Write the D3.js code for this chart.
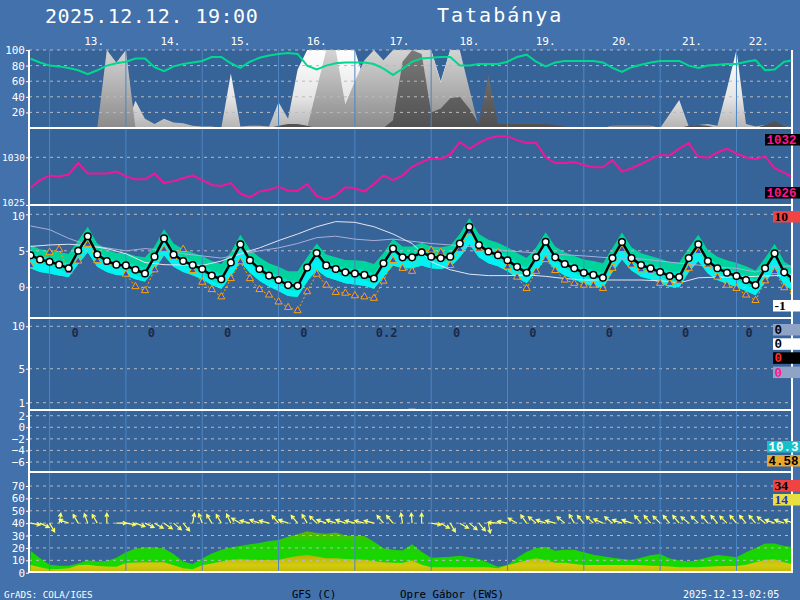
<!DOCTYPE html>
<html>
<head>
<meta charset="utf-8">
<script src="https://cdn.jsdelivr.net/npm/d3@7/dist/d3.min.js"></script>
<style>
html,body{margin:0;padding:0;background:#4271ab;}
svg{display:block;}
</style>
</head>
<body>
<svg id="chart" width="800" height="600"></svg>
<script>
// ================= DATA =================
const hours = d3.range(0, 241, 3);      // 3-hourly forecast steps (81)
const hours6 = d3.range(0, 241, 6);     // 6-hourly steps (41)

const dayLabels = ["13.","14.","15.","16.","17.","18.","19.","20.","21.","22."];
const dayLabelHours = [20,44,66,90,116,138,162,186,208,229];
const dayLineHours = [6,30,54,78,102,126,150,174,198,222];

const humidity = [88.8,84,80,79,77,74,69,74,80,83,
 85,89,89,78,73,79,82,84,86,91,
 91,83,77,85,90,93,95,96,95,80,
 75,80,83,84,84,84,82,76,68,76,
 85,89,90,91,91,80,80,82,82,82,
 85,91,94,85,79,84,86,86,86,86,
 84,77,72,78,81,84,86,86,86,80,
 77,80,81,82,82,85,87,74,75,85,
 87];

const cloudHigh = [0,0,0,0,0,0,0,0,0,0,
 0,35,12,5,12,7,6,3,2,2,
 0,70,2,3,3,2,33,12,75,100,
 100,100,100,100,100,60,30,10,0,0,
 0,30,100,60,100,95,40,0,0,0,
 0,0,0,0,0,0,0,0,0,0,
 0,3,3,3,3,3,0,18,36,2,
 4,5,3,50,100,5,2,4,6,3,
 0];
const cloudMid = [0,0,0,0,0,0,0,0,100,84,
 100,0,0,0,0,0,0,0,0,0,
 0,0,0,0,0,0,0,0,0,0,
 50,100,100,30,60,87,100,87,100,100,
 100,100,100,58,100,100,50,0,0,0,
 0,0,0,0,0,0,0,0,0,0,
 0,0,0,0,0,0,0,0,0,0,
 0,0,0,0,0,0,0,0,0,0,
 0];
const cloudLow = [0,0,0,0,0,0,0,0,0,0,
 0,0,0,0,0,0,0,0,0,0,
 0,0,0,0,0,0,3,5,5,3,
 0,0,0,0,0,0,0,0,10,85,
 100,95,20,25,38,40,25,5,68,5,
 5,5,5,5,5,4,2,0,0,0,
 0,2,2,2,2,2,0,0,0,3,
 4,3,0,0,0,0,0,4,9,3,
 0];

const pressure = [1026.8,1027.6,1028.1,1028.0,1028.2,1029.4,1028.3,1028.3,1028.3,1028.5,
 1028.0,1027.7,1027.7,1028.3,1027.3,1027.5,1027.8,1028.1,1027.6,1027.1,
 1027.0,1027.3,1026.2,1025.8,1026.4,1026.6,1026.9,1026.5,1026.5,1027.2,
 1025.95,1025.6,1026.0,1026.85,1026.75,1026.4,1027.2,1028.1,1027.6,1028.1,
 1029.0,1029.5,1029.9,1029.8,1030.3,1031.6,1030.9,1031.5,1032.0,1032.2,
 1032.2,1031.8,1031.5,1031.5,1030.0,1029.4,1029.4,1029.5,1029.2,1028.95,
 1028.95,1029.7,1028.5,1028.85,1029.3,1029.8,1030.25,1030.2,1030.9,1031.5,
 1030.05,1029.95,1030.5,1030.9,1030.4,1030.0,1029.8,1030.1,1028.85,1028.4,
 1027.85];

const temperature = [4.4,3.8,3.5,3.1,2.6,5.0,7.0,4.5,3.6,3.1,
 3.0,2.4,1.9,4.2,6.7,4.5,3.6,3.05,2.5,1.6,
 1.1,3.4,5.9,3.7,2.5,1.6,1.0,0.3,0.2,2.7,
 4.7,3.0,2.5,2.05,1.9,1.7,1.2,3.3,5.3,4.1,
 4.1,4.8,4.2,4.0,4.2,6.0,8.3,5.8,4.9,4.4,
 3.7,2.8,2.0,4.1,6.25,4.1,3.2,2.6,2.0,1.7,
 1.3,4.0,6.2,4.0,3.05,2.6,2.1,1.55,1.4,4.0,
 5.9,3.6,2.6,2.0,1.55,1.0,0.3,2.6,4.65,2.05,
 1.1];

const temperature2 = [2.96,3.6,4.8,5.2,2.2,3.6,5.9,3.65,3.3,3.05,
 1.8,0.1,-0.45,2.4,5.2,4.1,5.2,2.3,0.7,-0.3,
 -1.3,1.2,3.5,1.2,-0.3,-1.05,-2.0,-2.75,-3.2,-0.6,
 1.8,0.3,-0.7,-0.8,-1.15,-1.3,-1.5,0.85,3.7,2.6,
 2.2,5.0,5.1,4.8,3.0,5.2,7.6,5.25,4.65,4.8,
 2.8,1.4,-0.15,2.2,3.8,2.3,1.0,0.55,0.3,0.3,
 -0.15,2.6,5.2,3.05,2.4,2.2,0.55,0.55,0.85,2.6,
 4.9,3.05,1.4,0.3,-0.15,-1.05,-1.8,0.9,2.15,-0.05,
 -0.6];

const spreadUp = [1.4,1.4,1.5,1.7,2.0,1.4,1.3,1.5,1.6,1.6,
 1.7,1.9,2.2,1.4,1.3,1.5,1.6,1.7,1.8,2.0,
 2.1,1.4,1.3,1.5,1.6,1.7,1.8,1.9,2.0,1.4,
 1.3,1.5,1.6,1.7,1.8,1.9,2.0,1.4,1.3,1.5,
 1.5,1.3,1.4,1.5,1.5,1.3,1.2,1.5,1.6,1.7,
 1.8,1.9,2.0,1.4,1.3,1.5,1.6,1.7,1.8,1.9,
 2.0,1.4,1.3,1.5,1.6,1.7,1.8,1.9,2.0,1.4,
 1.3,1.5,1.6,1.7,1.8,1.9,2.0,1.4,1.3,1.5,
 1.6];
const spreadDn = [1.8,1.7,1.6,1.5,1.2,1.8,2.2,1.7,1.5,1.4,
 1.4,1.3,1.1,1.8,2.3,1.7,1.5,1.4,1.4,1.3,
 1.3,1.9,2.4,1.7,1.6,1.5,1.5,1.5,1.5,1.9,
 2.3,1.6,1.5,1.5,1.5,1.5,1.4,1.9,2.3,1.5,
 1.5,1.8,1.6,1.5,1.4,1.9,2.4,1.7,1.6,1.5,
 1.5,1.5,1.4,1.9,2.3,1.7,1.6,1.5,1.5,1.5,
 1.4,1.9,2.4,1.7,1.6,1.5,1.5,1.5,1.4,1.9,
 2.3,1.7,1.6,1.5,1.5,1.5,1.4,1.9,2.3,1.7,
 1.6];

const tempModelA = [5.6,5.8,5.9,5.7,5.3,4.6,3.4,3.1,3.05,3.0,
 3.6,4.6,5.4,6.4,7.3,8.3,9.0,8.9,8.3,7.3,
 6.0,3.5,2.4,1.8,1.6,1.6,1.7,1.5,1.2,1.0,
 1.0,1.0,1.0,0.9,0.6,1.3,1.4,1.4,1.5,1.6,
 1.7];
const tempModelB = [8.4,7.9,6.7,5.8,5.4,5.0,5.3,5.1,4.6,4.3,
 4.0,4.5,5.0,5.4,6.0,6.8,7.0,6.6,6.4,6.6,
 6.3,6.0,5.8,5.6,5.3,5.0,4.8,4.6,4.45,4.3,
 4.1,4.0,3.9,3.6,3.3,3.05,2.8,2.6,2.1,2.9,
 2.9];

const precip = hours.map(() => 0);
precip[40] = 0.3;
const dailyPrecip = ["0","0","0","0","0.2","0","0","0","0","0"];
const dailyPrecipHours = [14,38,62,86,112,134,158,182,206,226];

const gust = [17.7,11.6,6.4,5.6,5.6,7.5,10,9,9.5,12,
 16.5,19.5,20.5,20.5,19.5,15,9,7,11.5,15.5,
 18.5,20.5,21.5,23,24,25.5,26.5,29,31,33.5,
 32,31.5,32.5,30,29.6,29.6,25,19.7,18.5,18,
 22.9,17,12.1,12.5,12.9,13.7,12.5,11,8,4.8,
 6.2,12,17,20,21,17.8,18.5,18.5,16.5,14.5,
 13.3,12,11,10.2,12,14,15,11.5,10,9,
 10.5,12.5,14.3,13.5,12.4,16.5,20,23.5,23.5,21.5,
 20.5];
const wind = [6.2,4.5,2.7,3,3.5,6,6.5,5.5,5,4.8,
 7.8,8.2,8.4,8.4,8.4,6,3.5,2.7,6,7.5,
 9,10.5,10.8,10.5,10.2,10.2,10.2,12,13.5,14.3,
 13,11.6,11.6,11,10.8,10.5,9.5,8.5,8,7.8,
 10,6.5,4.3,4.5,4.5,4.5,4.5,4.3,4.3,3.5,
 6,8,10,11.6,10,8,8,7,6.2,6.2,
 6.2,6.2,6.2,6.2,6,5.6,5.4,5,4.5,4.3,
 4.3,4.8,5.2,5.4,5.4,6.5,8.5,10.5,10.8,8.5,
 6.8];
const windFrom = [280,295,330,190,110,150,160,150,180,270,
 280,290,295,300,305,310,320,190,160,150,
 150,155,120,105,110,105,140,110,140,150,
 135,110,110,110,105,105,105,140,140,170,
 175,180,280,300,330,300,310,320,350,95,
 100,120,145,130,110,105,130,150,140,135,
 115,130,110,110,140,140,135,140,140,130,
 135,140,140,135,140,140,140,130,110,110,
 110];

const sideLabels = ["1032","1026","10","-1","0","0","0","0","10.3","4.58","34","14"];

// ================= SCALES =================
const x = d3.scaleLinear().domain([0, 240]).range([30.5, 793.7]);
const yCloud = d3.scaleLinear().domain([0, 100]).range([128, 50]);
const yPres = d3.scaleLinear().domain([1025, 1030]).range([205, 157.3]);
const yTemp = d3.scaleLinear().domain([0, 10]).range([287.3, 214.3]);
const yPrec = d3.scaleLinear().domain([1, 10]).range([402.7, 326.3]);
const yP5 = d3.scaleLinear().domain([-6, 2]).range([462, 415.7]);
const yWind = d3.scaleLinear().domain([0, 70]).range([572.7, 486]);

const L = 29, R = 792;
const panels = [
  {id:"pc", top:50, bottom:128},
  {id:"pp", top:128, bottom:205},
  {id:"pt", top:205, bottom:318},
  {id:"pr", top:318, bottom:410},
  {id:"p5", top:410, bottom:472},
  {id:"pw", top:472, bottom:572}
];

const svg = d3.select("#chart");
const defs = svg.append("defs");
panels.forEach(p => {
  defs.append("clipPath").attr("id", "clip-" + p.id)
    .append("rect").attr("x", L).attr("y", p.top).attr("width", R - L).attr("height", p.bottom - p.top);
});
function grad(id, y1, y2, stops) {
  const g = defs.append("linearGradient").attr("id", id).attr("gradientUnits", "userSpaceOnUse")
    .attr("x1", 0).attr("x2", 0).attr("y1", y1).attr("y2", y2);
  stops.forEach(s => g.append("stop").attr("offset", s[0]).attr("stop-color", s[1]));
}
grad("gHigh", 50, 128, [[0, "#ffffff"], [0.6, "#e6e6e6"], [1, "#b4b4b4"]]);
grad("gMid", 50, 128, [[0, "#d4d4d4"], [0.5, "#b0b0b0"], [1, "#8a8a8a"]]);
grad("gLow", 50, 128, [[0, "#7a7a7a"], [1, "#505050"]]);
grad("gGust", yWind(36), yWind(0), [[0, "#74a800"], [0.3, "#1fd000"], [1, "#10dc00"]]);
grad("gWind", yWind(15), yWind(0), [[0, "#b6ae00"], [0.6, "#d2cc10"], [1, "#c0b800"]]);

// backgrounds
svg.append("rect").attr("width", 800).attr("height", 600).attr("fill", "#4271ab");
svg.append("rect").attr("x", L).attr("y", 50).attr("width", R - L).attr("height", 522).attr("fill", "#366398");

// ================= AREAS =================
const gC = svg.append("g").attr("clip-path", "url(#clip-pc)");
[[cloudHigh, "gHigh"], [cloudMid, "gMid"], [cloudLow, "gLow"]].forEach(([arr, g]) => {
  gC.append("path").datum(arr).attr("fill", `url(#${g})`)
    .attr("d", d3.area().x((d, i) => x(hours[i])).y0(yCloud(0)).y1(d => yCloud(d)));
});

const gT = svg.append("g").attr("clip-path", "url(#clip-pt)");
const bandLayers = [
  {lo: 1.0, hi: 1.0, col: "#00d49c"},
  {lo: 1.0, hi: 0.35, col: "#00e4c8"},
  {lo: 1.0, hi: -0.35, col: "#00f2f2"}
];
bandLayers.forEach(b => {
  gT.append("path").datum(temperature).attr("fill", b.col)
    .attr("d", d3.area().x((d, i) => x(hours[i]))
      .y0((d, i) => yTemp(d - spreadDn[i] * b.lo))
      .y1((d, i) => yTemp(d + spreadUp[i] * b.hi)));
});

const gR = svg.append("g").attr("clip-path", "url(#clip-pr)");
gR.selectAll("rect").data(precip.map((v, i) => ({v, h: hours[i]})).filter(d => d.v > 0))
  .join("rect").attr("x", d => x(d.h) - 3.5).attr("width", 7)
  .attr("y", d => yPrec(d.v)).attr("height", d => yPrec(0) - yPrec(d.v)).attr("fill", "#c8d4ea");

const gW = svg.append("g").attr("clip-path", "url(#clip-pw)");
gW.append("path").datum(gust).attr("fill", "url(#gGust)")
  .attr("d", d3.area().x((d, i) => x(hours[i])).y0(yWind(0)).y1(d => yWind(d)));
gW.append("path").datum(wind).attr("fill", "url(#gWind)")
  .attr("d", d3.area().x((d, i) => x(hours[i])).y0(yWind(0)).y1(d => yWind(d)));

// ================= GRID =================
const gridSpec = [
  [yCloud, [20, 40, 60, 80, 100]],
  [yPres, [1030]],
  [yTemp, [0, 5, 10]],
  [yPrec, [1, 5, 10]],
  [yP5, [-6, -4, -2, 0, 2]],
  [yWind, [10, 20, 30, 40, 50, 60, 70]]
];
const gGrid = svg.append("g");
gridSpec.forEach(([s, vals]) => {
  vals.forEach(v => gGrid.append("line").attr("x1", L).attr("x2", R).attr("y1", s(v)).attr("y2", s(v))
    .attr("stroke", "#b9b9c2").attr("stroke-width", 1).attr("stroke-dasharray", "3,4"));
});
svg.append("g").selectAll("line").data(dayLineHours).join("line")
  .attr("x1", d => x(d)).attr("x2", d => x(d)).attr("y1", 50).attr("y2", 572)
  .attr("stroke", "#4d86c4").attr("stroke-width", 1);

// ================= LINES =================
const gC2 = svg.append("g").attr("clip-path", "url(#clip-pc)");
gC2.append("path").datum(humidity).attr("fill", "none").attr("stroke", "#00d890").attr("stroke-width", 2)
  .attr("d", d3.line().x((d, i) => x(hours[i])).y(d => yCloud(d)));

const gP = svg.append("g").attr("clip-path", "url(#clip-pp)");
gP.append("path").datum(pressure).attr("fill", "none").attr("stroke", "#f0189a").attr("stroke-width", 2)
  .attr("d", d3.line().x((d, i) => x(hours[i])).y(d => yPres(d)));

const gT2 = svg.append("g").attr("clip-path", "url(#clip-pt)");
gT2.append("path").datum(tempModelB).attr("fill", "none").attr("stroke", "#a9aedb").attr("stroke-width", 1)
  .attr("d", d3.line().x((d, i) => x(hours6[i])).y(d => yTemp(d)));
gT2.append("path").datum(tempModelA).attr("fill", "none").attr("stroke", "#e4e6f2").attr("stroke-width", 1)
  .attr("d", d3.line().x((d, i) => x(hours6[i])).y(d => yTemp(d)));
gT2.append("path").datum(temperature2).attr("fill", "none").attr("stroke", "#ffa500").attr("stroke-width", 1)
  .attr("stroke-dasharray", "2,2")
  .attr("d", d3.line().x((d, i) => x(hours[i])).y(d => yTemp(d)));
gT2.selectAll("path.tri").data(temperature2).join("path").attr("class", "tri")
  .attr("transform", (d, i) => `translate(${x(hours[i])},${yTemp(d)})`)
  .attr("d", d3.symbol(d3.symbolTriangle, 22))
  .attr("fill", "#2f4fd0").attr("stroke", "#ffa500").attr("stroke-width", 1);
gT2.append("path").datum(temperature).attr("fill", "none").attr("stroke", "#000").attr("stroke-width", 2.5)
  .attr("d", d3.line().x((d, i) => x(hours[i])).y(d => yTemp(d)));
gT2.selectAll("circle").data(temperature).join("circle")
  .attr("cx", (d, i) => x(hours[i])).attr("cy", d => yTemp(d)).attr("r", 3.3)
  .attr("fill", "#fff").attr("stroke", "#000").attr("stroke-width", 1.5);

// wind arrows
const gA = svg.append("g").attr("clip-path", "url(#clip-pw)");
const arrowLen = 10, headLen = 4;
windFrom.forEach((dir, i) => {
  const to = (dir + 180) * Math.PI / 180;
  const tx = x(hours[i]), ty = yWind(40);
  const hx = tx + arrowLen * Math.sin(to), hy = ty - arrowLen * Math.cos(to);
  const a1 = to + Math.PI - 0.5, a2 = to + Math.PI + 0.5;
  const p = `M${tx},${ty}L${hx},${hy}M${hx + headLen * Math.sin(a1)},${hy - headLen * Math.cos(a1)}L${hx},${hy}L${hx + headLen * Math.sin(a2)},${hy - headLen * Math.cos(a2)}`;
  gA.append("path").attr("d", p).attr("fill", "none").attr("stroke", "#ffff66").attr("stroke-width", 1.2);
});

// precip daily totals
svg.append("g").selectAll("text").data(dailyPrecip).join("text")
  .attr("x", (d, i) => x(dailyPrecipHours[i])).attr("y", 337).attr("text-anchor", "middle")
  .attr("font-family", "DejaVu Sans Mono").attr("font-weight", "bold").attr("font-size", 12)
  .attr("fill", "#1c2a48").text(d => d);

// ================= BORDERS =================
const gB = svg.append("g").attr("stroke", "#fff").attr("stroke-width", 2);
[128, 205, 318, 410, 472, 572].forEach(y => gB.append("line").attr("x1", L).attr("x2", R).attr("y1", y).attr("y2", y));
[L, R].forEach(xx => gB.append("line").attr("x1", xx).attr("x2", xx).attr("y1", 50).attr("y2", 573));

// ================= AXES =================
const axisSpec = [
  [yCloud, [20, 40, 60, 80, 100], 11],
  [yPres, [1025, 1030], 9.5],
  [yTemp, [0, 5, 10], 11],
  [yPrec, [1, 5, 10], 11],
  [yP5, [-6, -4, -2, 0, 2], 11],
  [yWind, [0, 10, 20, 30, 40, 50, 60, 70], 11]
];
axisSpec.forEach(([s, vals, fs], k) => {
  const g = svg.append("g").attr("transform", `translate(${L},0)`)
    .call(d3.axisLeft(s).tickValues(vals).tickSize(3).tickPadding(1).tickFormat(d3.format("d")));
  g.select(".domain").remove();
  g.selectAll(".tick line").attr("stroke", "#fff");
  g.selectAll(".tick text").attr("fill", "#fff").attr("font-family", "DejaVu Sans Mono").attr("font-size", fs);
  if (k === 1) g.selectAll(".tick text").filter(d => d === 1025).attr("dy", "0.1em");
  if (k === 2) g.selectAll(".tick text").filter(d => d === 10).attr("dy", "0.5em");
});

// day labels
svg.append("g").selectAll("text").data(dayLabels).join("text")
  .attr("x", (d, i) => x(dayLabelHours[i])).attr("y", 45).attr("text-anchor", "middle")
  .attr("font-family", "DejaVu Sans Mono").attr("font-size", 11).attr("fill", "#fff").text(d => d);

// titles
svg.append("text").attr("x", 45).attr("y", 22.5).attr("font-family", "DejaVu Sans Mono").attr("font-size", 20)
  .attr("letter-spacing", 0.5).attr("fill", "#fff").text("2025.12.12. 19:00");
svg.append("text").attr("x", 437).attr("y", 22).attr("font-family", "DejaVu Sans Mono").attr("font-size", 20)
  .attr("letter-spacing", 2).attr("fill", "#fff").text("Tatabánya");

// side labels
const sideStyle = [
  {x:765, y:134, w:35, bg:"#000", fg:"#ff1493", f:"mono"},
  {x:765, y:187, w:35, bg:"#000", fg:"#ff1493", f:"mono"},
  {x:773, y:211, w:27, bg:"#f04444", fg:"#000", f:"serif"},
  {x:773, y:300, w:27, bg:"#ffffff", fg:"#000", f:"serif"},
  {x:773, y:324, w:27, bg:"#8fa3c6", fg:"#000", f:"mono"},
  {x:773, y:338.3, w:27, bg:"#ffffff", fg:"#000", f:"mono"},
  {x:773, y:352.3, w:27, bg:"#000000", fg:"#ff3030", f:"mono"},
  {x:773, y:366.6, w:27, bg:"#8fa3c6", fg:"#ff1493", f:"mono"},
  {x:767, y:441, w:33, bg:"#12c2c8", fg:"#fff", f:"mono"},
  {x:767, y:455, w:33, bg:"#e8a830", fg:"#000", f:"mono"},
  {x:773, y:480, w:27, bg:"#f04444", fg:"#000", f:"serif"},
  {x:773, y:494, w:27, bg:"#e8e040", fg:"#2030e0", f:"serif"}
];
sideLabels.forEach((t, i) => {
  const s = sideStyle[i];
  svg.append("rect").attr("x", s.x).attr("y", s.y).attr("width", s.w).attr("height", 11.5).attr("fill", s.bg);
  svg.append("text").attr("x", s.x + 1.5).attr("y", s.y + 10)
    .attr("font-family", s.f === "serif" ? "Liberation Serif" : "Liberation Mono")
    .attr("font-weight", "bold").attr("font-size", s.f === "serif" ? 13.5 : 12.5)
    .attr("fill", s.fg).text(t);
});

// footer
const foot = [
  {t:"GrADS: COLA/IGES", x:4, c:"#fff", fs:9.2},
  {t:"GFS (C)", x:292, c:"#000", fs:10.5},
  {t:"Opre Gábor (EWS)", x:400, c:"#000", fs:10.8},
  {t:"2025-12-13-02:05", x:683, c:"#fff", fs:10}
];
foot.forEach(f => svg.append("text").attr("x", f.x).attr("y", 598).attr("font-family", "DejaVu Sans Mono")
  .attr("font-size", f.fs).attr("fill", f.c).text(f.t));
</script>
</body>
</html>
